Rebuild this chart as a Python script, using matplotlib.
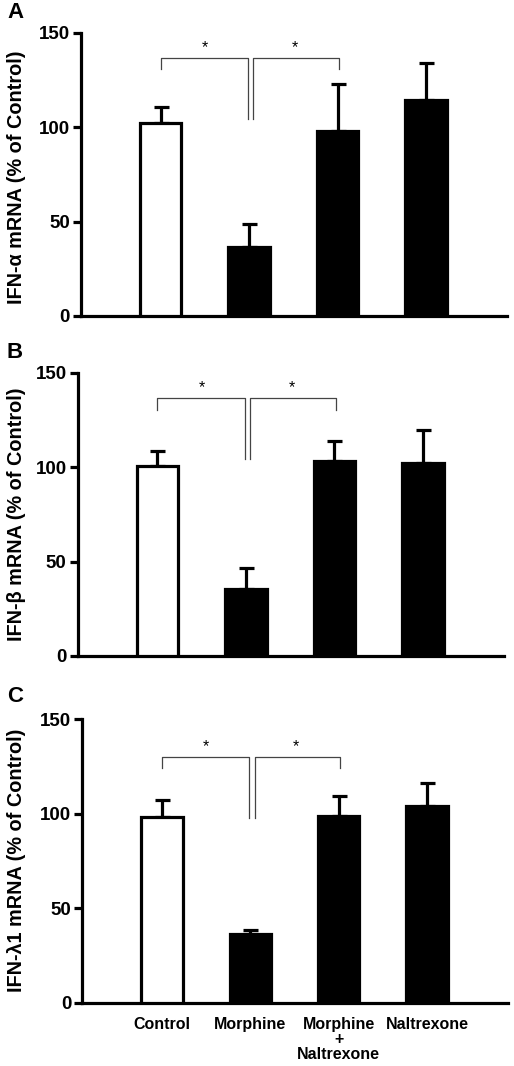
import matplotlib
matplotlib.use("Agg")
import matplotlib.pyplot as plt

plt.rcParams['font.family'] = ['Liberation Sans', 'DejaVu Sans']

groups = ["Control", "Morphine", "Morphine\n+\nNaltrexone", "Naltrexone"]
panel_letters = ["A", "B", "C"]
ylabels = ["IFN-α mRNA (% of Control)", "IFN-β mRNA (% of Control)", "IFN-λ1 mRNA (% of Control)"]

means_a = [102.3, 36.7, 98.0, 114.5]
sem_a = [8.6, 12.1, 24.8, 19.4]
means_b = [100.8, 35.5, 103.1, 102.4]
sem_b = [7.7, 10.9, 10.9, 17.1]
means_c = [98.4, 36.3, 98.9, 104.0]
sem_c = [8.8, 2.1, 10.4, 12.0]

# significance bracket heights (bracket top, outer tick end, centre drop end)
bracket_a = [137.0, 131.0, 104.4]
bracket_b = [136.8, 130.2, 104.3]
bracket_c = [130.1, 123.9, 97.8]

means = [means_a, means_b, means_c]
sems = [sem_a, sem_b, sem_c]
brackets = [bracket_a, bracket_b, bracket_c]
yticks = [0, 50, 100, 150]

W, H = 514, 1066
fig = plt.figure(figsize=(W / 100, H / 100), dpi=100)

# axes boxes in pixels: left, right, top(150), bottom(0)
boxes = [(81, 507, 33, 316), (77.7, 504, 372.7, 656), (82.3, 508, 719, 1002.7)]
label_pos = [(15, 12), (15, 352), (15, 696)]
ylabel_y = [177, 514, 860]

lw = 2.3
for i in range(3):
    l, r, t, b = boxes[i]
    ax = fig.add_axes([l / W, 1 - b / H, (r - l) / W, (b - t) / H])
    x = list(range(len(groups)))
    colors = ["white", "black", "black", "black"]
    ax.bar(x, means[i], width=0.47, color=colors, edgecolor="black",
           linewidth=lw, zorder=3)
    ax.errorbar(x, means[i], yerr=[[0] * 4, sems[i]], fmt="none",
                ecolor="black", elinewidth=lw, capsize=5.4, capthick=lw, zorder=2)
    ax.set_xlim(-0.9, 3.915)
    ax.set_ylim(0, 150)
    ax.set_yticks(yticks)
    ax.set_yticklabels([str(v) for v in yticks], fontsize=13.5, fontweight="bold")
    ax.tick_params(axis="y", length=6, width=lw, pad=2)
    for s in ["top", "right"]:
        ax.spines[s].set_visible(False)
    for s in ["left", "bottom"]:
        ax.spines[s].set_linewidth(lw)
    if i == 2:
        ax.set_xticks(x)
        ax.set_xticklabels(groups, fontsize=11.5, fontweight="bold", linespacing=1.0)
        ax.tick_params(axis="x", length=0, pad=10)
    else:
        ax.set_xticks([])

    top, tick_end, centre_end = brackets[i]
    bc = "#444444"
    blw = 0.9
    ax.plot([0, 0, 0.985, 0.985], [tick_end, top, top, centre_end], color=bc, lw=blw)
    ax.plot([1.048, 1.048, 2.02, 2.02], [centre_end, top, top, tick_end], color=bc, lw=blw)
    ax.text(0.5, top + 1.5, "*", ha="center", va="bottom", fontsize=11.5)
    ax.text(1.52, top + 1.5, "*", ha="center", va="bottom", fontsize=11.5)

    fig.text(label_pos[i][0] / W, 1 - label_pos[i][1] / H, panel_letters[i],
             fontsize=16, fontweight="bold", ha="center", va="center")
    fig.text(17 / W, 1 - ylabel_y[i] / H, ylabels[i], rotation=90,
             fontsize=14.3, fontweight="bold", ha="center", va="center")

fig.savefig("out.png", dpi=100)
